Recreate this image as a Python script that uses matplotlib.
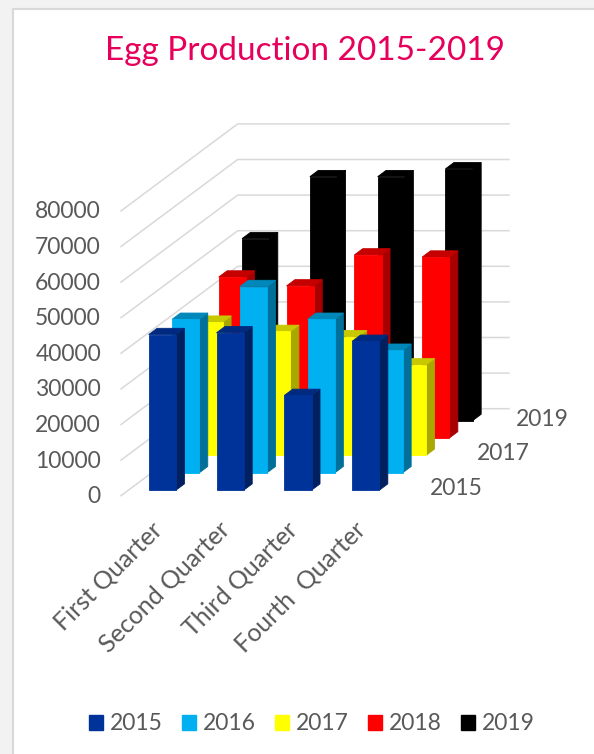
import matplotlib
matplotlib.use('Agg')
from matplotlib import pyplot as plt
from matplotlib.patches import Polygon, Rectangle, Patch

quarters = ['First Quarter', 'Second Quarter', 'Third Quarter', 'Fourth  Quarter']
years = ['2015', '2016', '2017', '2018', '2019']
depth_labels = ['2015', '2017', '2019']
y_ticks = [0, 10000, 20000, 30000, 40000, 50000, 60000, 70000, 80000]

v2015 = [43700, 44200, 26600, 41800]
v2016 = [43100, 52300, 43100, 34400]
v2017 = [37400, 34800, 33300, 25400]
v2018 = [45200, 42700, 51400, 50800]
v2019 = [51100, 68500, 68500, 70700]
series = [v2015, v2016, v2017, v2018, v2019]

front = ['#003399', '#00B0F0', '#FFFF00', '#FF0000', '#000000']
top = ['#002A80', '#0088BB', '#C8C800', '#C40000', '#000000']
side = ['#002060', '#00709A', '#A8A800', '#A80000', '#000000']

text_col = '#595959'
font = 'Lato'
label_size = 16.5

# oblique projection, all in pixels of the figure
X0, Y0 = 121.0, 495.7
CAT_W = 67.8
DX, DY = 23.34, 17.4
PX_PER_UNIT = 35.6 / 10000
BAR_GAP = 20.25 / 67.8
D_GAP = 0.32


def proj(c, d, v):
    return (X0 + c * CAT_W + d * DX, Y0 - d * DY - v * PX_PER_UNIT)


fig = plt.figure(figsize=(5.94, 7.54), dpi=100, facecolor='#F2F2F2')
ax = fig.add_axes([0, 0, 1, 1])
ax.set_xlim(0, 594)
ax.set_ylim(754, 0)
ax.axis('off')

# white card
ax.add_patch(Rectangle((13, 9), 600, 760, fc='white', ec='#D9D9D9', lw=1.5, zorder=0))

# gridlines
for t in y_ticks:
    a = proj(0, 0, t)
    b = proj(0, 5, t)
    c = proj(4, 5, t)
    ax.plot([a[0], b[0], c[0]], [a[1], b[1], c[1]], color='#D9D9D9', lw=1.1, zorder=1)
    ax.text(101, a[1] + 1, str(t), ha='right', va='center', fontsize=label_size,
            color=text_col, family=font)

# bars, back row first
z = 2
for k in range(4, -1, -1):
    d0 = k + D_GAP
    d1 = k + 1 - D_GAP
    for i in range(4):
        v = series[k][i]
        c0 = i + BAR_GAP
        c1 = i + 1 - BAR_GAP
        faces = [
            ([proj(c1, d0, 0), proj(c1, d1, 0), proj(c1, d1, v), proj(c1, d0, v)], side[k]),
            ([proj(c0, d0, v), proj(c1, d0, v), proj(c1, d1, v), proj(c0, d1, v)], top[k]),
            ([proj(c0, d0, 0), proj(c1, d0, 0), proj(c1, d0, v), proj(c0, d0, v)], front[k]),
        ]
        for pts, col in faces:
            ax.add_patch(Polygon(pts, closed=True, fc=col, ec=col, lw=0.6, zorder=z))
        z += 1

# depth axis labels
for lab, k, off in zip(depth_labels, [0, 2, 4], [38, 38, 30]):
    x, y = proj(4, k, 0)
    ax.text(x + off, y - 7, lab, ha='left', va='center', fontsize=label_size,
            color=text_col, family=font)

# category labels
for i, q in enumerate(quarters):
    x, y = proj(i + 0.5, 0, 0)
    ax.text(x - 5, y + 22, q, ha='right', va='top', rotation=45, rotation_mode='anchor',
            fontsize=18, color=text_col, family=font)

ax.text(305, 51, 'Egg Production 2015-2019', ha='center', va='center', fontsize=24,
        color='#E6005C', family=font)

handles = [Patch(fc=c, ec=c) for c in front]
leg = ax.legend(handles, years, ncol=5, loc='center', bbox_to_anchor=(312, 724),
                bbox_transform=ax.transData, frameon=False,
                handlelength=0.6, handleheight=0.6, handletextpad=0.3,
                columnspacing=0.85, labelcolor=text_col,
                prop={'family': font, 'size': label_size})

fig.savefig('out.png', dpi=100, facecolor=fig.get_facecolor())
